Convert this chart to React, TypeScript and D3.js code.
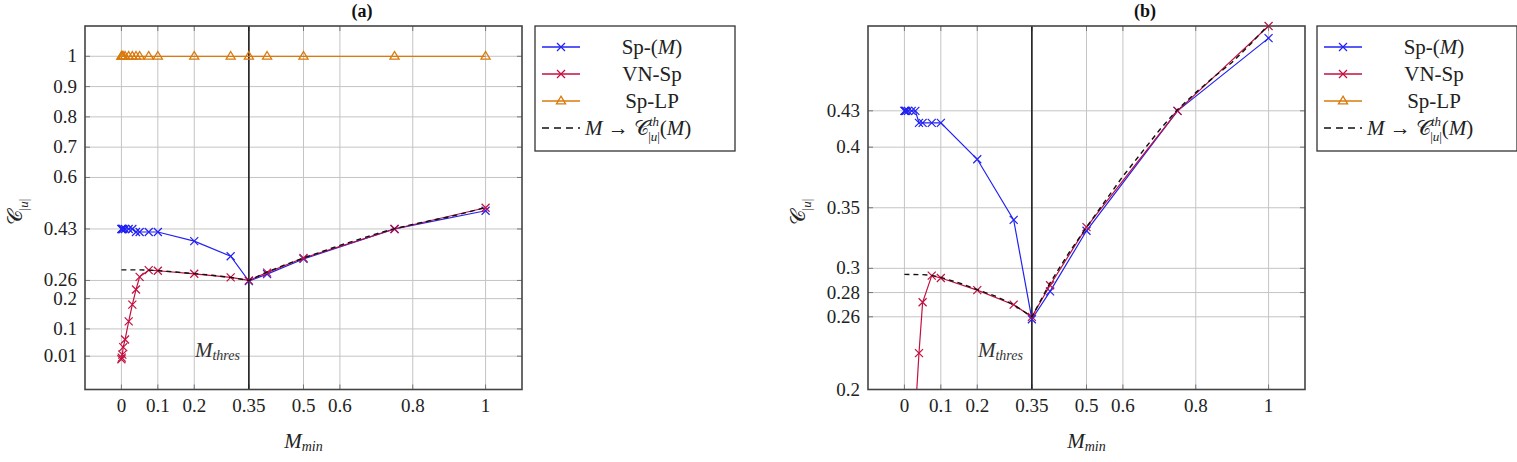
import React from 'react';
import * as d3 from 'd3';

// Sampled values of M_min (shared by every series)
const mGrid = [0, 0.001, 0.0025, 0.005, 0.01, 0.02, 0.03, 0.04, 0.05, 0.075, 0.1, 0.2, 0.3, 0.35, 0.4, 0.5, 0.75, 1];
// Sp-(M)
const spM = [0.43, 0.43, 0.43, 0.43, 0.43, 0.43, 0.43, 0.42, 0.42, 0.42, 0.42, 0.39, 0.34, 0.258, 0.281, 0.331, 0.43, 0.49];
// VN-Sp
const vnSp = [0.0, 0.005, 0.015, 0.04, 0.065, 0.125, 0.18, 0.23, 0.272, 0.294, 0.292, 0.282, 0.27, 0.26, 0.286, 0.334, 0.43, 0.5];
// Sp-LP
const spLP = [1, 1, 1, 1, 1, 1, 1, 1, 1, 1, 1, 1, 1, 1, 1, 1, 1, 1];
// Theoretical curve M -> C^th_|u|(M)
const thM = [0, 0.05, 0.075, 0.1, 0.15, 0.2, 0.25, 0.3, 0.35, 0.4, 0.45, 0.5, 0.55, 0.6, 0.65, 0.7, 0.75, 0.8, 0.85, 0.9, 0.95, 1];
const thC = [0.295, 0.2948, 0.2942, 0.2925, 0.288, 0.2825, 0.277, 0.27, 0.26, 0.288, 0.312, 0.334, 0.355, 0.376, 0.395, 0.414, 0.431, 0.445, 0.458, 0.47, 0.485, 0.501];

const mThres = 0.35;
const xTicks = [0, 0.1, 0.2, 0.35, 0.5, 0.6, 0.8, 1];
const yTicksA = [0.01, 0.1, 0.2, 0.26, 0.43, 0.6, 0.7, 0.8, 0.9, 1];
const yTicksB = [0.2, 0.26, 0.28, 0.3, 0.35, 0.4, 0.43];

const BLUE = '#2222f2';
const PURPLE = '#c21040';
const ORANGE = '#da7a0c';
const FONT = '"Liberation Serif", "DejaVu Serif", serif';

const PLOT_W = 437;
const TOP = 26;
const BOTTOM = 389.5;
const MK = 4;

type Pt = [number, number];

function Cross({ cx, cy, color }: { cx: number; cy: number; color: string }) {
  return (
    <path
      d={`M${cx - MK},${cy - MK}L${cx + MK},${cy + MK}M${cx - MK},${cy + MK}L${cx + MK},${cy - MK}`}
      stroke={color}
      strokeWidth={1.2}
      fill="none"
    />
  );
}

function Tri({ cx, cy, color }: { cx: number; cy: number; color: string }) {
  const r = 4.8;
  return (
    <path
      d={`M${cx},${cy - r}L${cx + r * 0.95},${cy + r * 0.6}L${cx - r * 0.95},${cy + r * 0.6}Z`}
      stroke={color}
      strokeWidth={1.3}
      fill="none"
    />
  );
}

function SymC({ x, y, size, rotate }: { x: number; y: number; size: number; rotate?: boolean }) {
  return (
    <text
      x={x}
      y={y}
      fontFamily={FONT}
      fontSize={size}
      transform={rotate ? `rotate(-90 ${x} ${y})` : undefined}
      textAnchor={rotate ? 'middle' : 'start'}
      fill="#222"
    >
      <tspan>𝒞</tspan>
      <tspan fontSize={size * 0.62} dy={size * 0.3}>
        |<tspan fontStyle="italic">u</tspan>|
      </tspan>
    </text>
  );
}

function Panel({
  left,
  yDomain,
  yTicks,
  title,
  legendLeft,
  id,
}: {
  left: number;
  yDomain: [number, number];
  yTicks: number[];
  title: string;
  legendLeft: number;
  id: string;
}) {
  const x = d3.scaleLinear().domain([-0.1, 1.1]).range([left, left + PLOT_W]);
  const y = d3.scaleLinear().domain(yDomain).range([BOTTOM, TOP]);
  const line = d3
    .line<Pt>()
    .x((d) => x(d[0]))
    .y((d) => y(d[1]));
  const inside = (v: number) => v >= yDomain[0] - 1e-6 && v <= yDomain[1] + 1e-6;

  const series = [
    { vals: spM, color: BLUE, mark: 'x' },
    { vals: vnSp, color: PURPLE, mark: 'x' },
    { vals: spLP, color: ORANGE, mark: 't' },
  ];
  const thPts: Pt[] = thM.map((m, i) => [m, thC[i]]);
  const right = left + PLOT_W;
  const legendRows = [TOP + 21, TOP + 48, TOP + 75, TOP + 102];
  const legendCenter = legendLeft + 117;

  return (
    <g>
      <defs>
        <clipPath id={`clip-${id}`}>
          <rect x={left} y={TOP} width={PLOT_W} height={BOTTOM - TOP} />
        </clipPath>
      </defs>
      {/* title */}
      <text
        x={left + 277}
        y={17}
        fontFamily={FONT}
        fontWeight="bold"
        fontSize={18}
        textAnchor="middle"
        fill="#111"
      >
        {title}
      </text>
      {/* grid */}
      {xTicks.map((t) => (
        <line key={`gx${t}`} x1={x(t)} x2={x(t)} y1={TOP} y2={BOTTOM} stroke="#c4c4c4" strokeWidth={1} />
      ))}
      {yTicks.map((t) => (
        <line key={`gy${t}`} x1={left} x2={right} y1={y(t)} y2={y(t)} stroke="#c4c4c4" strokeWidth={1} />
      ))}
      {/* tick marks */}
      {xTicks.map((t) => (
        <g key={`tx${t}`} stroke="#777" strokeWidth={1}>
          <line x1={x(t)} x2={x(t)} y1={BOTTOM} y2={BOTTOM - 5} />
          <line x1={x(t)} x2={x(t)} y1={TOP} y2={TOP + 5} />
        </g>
      ))}
      {yTicks.map((t) => (
        <g key={`ty${t}`} stroke="#777" strokeWidth={1}>
          <line x1={left} x2={left + 5} y1={y(t)} y2={y(t)} />
          <line x1={right} x2={right - 5} y1={y(t)} y2={y(t)} />
        </g>
      ))}
      {/* threshold */}
      <line x1={x(mThres)} x2={x(mThres)} y1={TOP} y2={BOTTOM} stroke="#111" strokeWidth={1.5} />
      <text x={x(mThres) - 9} y={357} fontFamily={FONT} fontSize={21} textAnchor="end" fill="#333">
        <tspan fontStyle="italic">M</tspan>
        <tspan fontStyle="italic" fontSize={14} dy={3}>
          thres
        </tspan>
      </text>
      {/* series */}
      {series.map((s, si) => {
        const pts: Pt[] = mGrid.map((m, i) => [m, s.vals[i]]);
        return (
          <g key={`s${si}`}>
            <path d={line(pts) || ''} fill="none" stroke={s.color} strokeWidth={1.2} clipPath={`url(#clip-${id})`} />
            {pts
              .filter((p) => inside(p[1]))
              .map((p, i) =>
                s.mark === 'x' ? (
                  <Cross key={i} cx={x(p[0])} cy={y(p[1])} color={s.color} />
                ) : (
                  <Tri key={i} cx={x(p[0])} cy={y(p[1])} color={s.color} />
                )
              )}
          </g>
        );
      })}
      <path
        d={line(thPts) || ''}
        fill="none"
        stroke="#111"
        strokeWidth={1.4}
        strokeDasharray="5 4"
        clipPath={`url(#clip-${id})`}
      />
      {/* frame */}
      <rect x={left} y={TOP} width={PLOT_W} height={BOTTOM - TOP} fill="none" stroke="#444" strokeWidth={1.6} />
      {/* tick labels */}
      {xTicks.map((t) => (
        <text key={`lx${t}`} x={x(t)} y={412} fontFamily={FONT} fontSize={19} textAnchor="middle" fill="#222">
          {String(t)}
        </text>
      ))}
      {yTicks.map((t) => (
        <text key={`ly${t}`} x={left - 8} y={y(t) + 6} fontFamily={FONT} fontSize={19} textAnchor="end" fill="#222">
          {String(t)}
        </text>
      ))}
      {/* axis labels */}
      <text x={left + PLOT_W / 2} y={448} fontFamily={FONT} fontSize={21} textAnchor="middle" fill="#222">
        <tspan fontStyle="italic">M</tspan>
        <tspan fontStyle="italic" fontSize={14} dy={3}>
          min
        </tspan>
      </text>
      <SymC x={left - 63} y={212} size={21} rotate />
      {/* legend */}
      <rect x={legendLeft} y={TOP} width={200} height={125} fill="#fff" stroke="#333" strokeWidth={1.3} />
      {[
        { color: BLUE, mark: 'x', label: 'Sp-(', it: 'M', tail: ')' },
        { color: PURPLE, mark: 'x', label: 'VN-Sp', it: '', tail: '' },
        { color: ORANGE, mark: 't', label: 'Sp-LP', it: '', tail: '' },
      ].map((e, i) => (
        <g key={`lg${i}`}>
          <line x1={legendLeft + 7} x2={legendLeft + 45} y1={legendRows[i]} y2={legendRows[i]} stroke={e.color} strokeWidth={1.3} />
          {e.mark === 'x' ? (
            <Cross cx={legendLeft + 26} cy={legendRows[i]} color={e.color} />
          ) : (
            <Tri cx={legendLeft + 26} cy={legendRows[i]} color={e.color} />
          )}
          <text x={legendCenter} y={legendRows[i] + 7} fontFamily={FONT} fontSize={21} textAnchor="middle" fill="#222">
            {e.label}
            {e.it && <tspan fontStyle="italic">{e.it}</tspan>}
            {e.tail}
          </text>
        </g>
      ))}
      <line
        x1={legendLeft + 7}
        x2={legendLeft + 45}
        y1={legendRows[3]}
        y2={legendRows[3]}
        stroke="#111"
        strokeWidth={1.3}
        strokeDasharray="7 5"
      />
      <text x={legendLeft + 50} y={legendRows[3] + 7} fontFamily={FONT} fontSize={21} fill="#222">
        <tspan fontStyle="italic">M</tspan>
        <tspan> → </tspan>
        <tspan>𝒞</tspan>
        <tspan fontSize={13} fontStyle="italic" dy={-9}>
          th
        </tspan>
        <tspan fontSize={13} dx={-11} dy={15}>
          |<tspan fontStyle="italic">u</tspan>|
        </tspan>
        <tspan dy={-6}>(</tspan>
        <tspan fontStyle="italic">M</tspan>
        <tspan>)</tspan>
      </text>
    </g>
  );
}

export default function App() {
  return (
    <svg
      width={1517}
      height={462}
      style={{ position: 'absolute', left: 0, top: 0, background: '#fff' }}
    >
      <rect width={1517} height={462} fill="#fff" />
      <Panel left={85} yDomain={[-0.1, 1.1]} yTicks={yTicksA} title="(a)" legendLeft={535} id="a" />
      <Panel left={868} yDomain={[0.2, 0.5]} yTicks={yTicksB} title="(b)" legendLeft={1317} id="b" />
    </svg>
  );
}
